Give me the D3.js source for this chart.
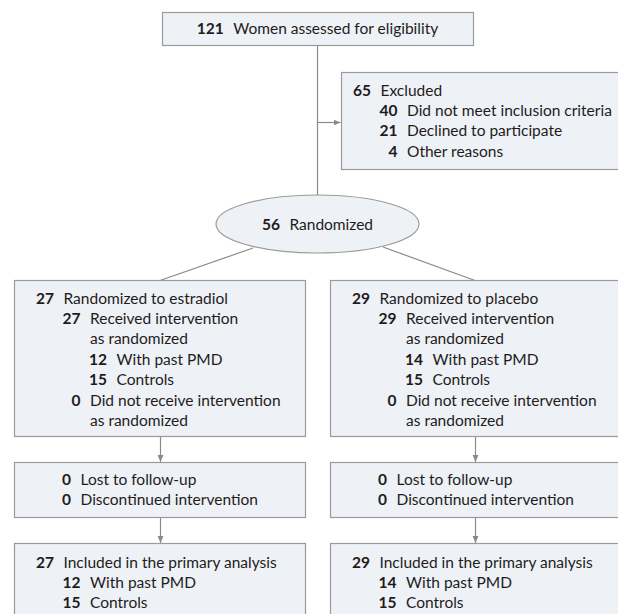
<!DOCTYPE html>
<html>
<head>
<meta charset="utf-8">
<script src="https://cdn.jsdelivr.net/npm/d3@7"></script>
<style>
  html, body { margin: 0; padding: 0; background: #fff; }
  svg { display: block; }
  text { font-family: Lato, "Open Sans", sans-serif; fill: #1f1c1d; }
</style>
</head>
<body>
<svg id="chart" width="618" height="614"></svg>
<script>
// ---------- data ----------
const assessed = [{ n: 121, text: "Women assessed for eligibility", level: 0 }];
const excluded = [
  { n: 65, text: "Excluded", level: 0 },
  { n: 40, text: "Did not meet inclusion criteria", level: 1 },
  { n: 21, text: "Declined to participate", level: 1 },
  { n: 4, text: "Other reasons", level: 1 }
];
const randomized = [{ n: 56, text: "Randomized", level: 0 }];
const armNames = ["estradiol", "placebo"];
const armTotals = [27, 29];
const armPastPMD = [12, 14];
const armControls = [15, 15];
const armNotReceived = [0, 0];
const armLost = [0, 0];
const armDiscontinued = [0, 0];
const armAnalyzed = [27, 29];

function allocationLines(i) {
  return [
    { n: armTotals[i], text: "Randomized to " + armNames[i], level: 0 },
    { n: armTotals[i], text: "Received intervention", level: 1 },
    { n: null, text: "as randomized", level: 1 },
    { n: armPastPMD[i], text: "With past PMD", level: 2 },
    { n: armControls[i], text: "Controls", level: 2 },
    { n: armNotReceived[i], text: "Did not receive intervention", level: 1 },
    { n: null, text: "as randomized", level: 1 }
  ];
}
function followLines(i) {
  return [
    { n: armLost[i], text: "Lost to follow-up", level: 0 },
    { n: armDiscontinued[i], text: "Discontinued intervention", level: 0 }
  ];
}
function analysisLines(i) {
  return [
    { n: armAnalyzed[i], text: "Included in the primary analysis", level: 0 },
    { n: armPastPMD[i], text: "With past PMD", level: 1 },
    { n: armControls[i], text: "Controls", level: 1 }
  ];
}

// ---------- drawing ----------
const svg = d3.select("#chart");
const FILL = "#eef1f5", STROKE = "#9b9b9b", LINE = "#8a8a8a";
const FS = 15.5, LH = 20.4, STEP = 26.5, GAP = 9.5;

const defs = svg.append("defs");
defs.append("marker").attr("id", "arr")
  .attr("viewBox", "0 0 10 10").attr("refX", 10).attr("refY", 5)
  .attr("markerWidth", 7).attr("markerHeight", 7)
  .attr("markerUnits", "userSpaceOnUse").attr("orient", "auto")
  .append("path").attr("d", "M0,0.8 L10,5 L0,9.2 Z").attr("fill", LINE);

const lineG = svg.append("g");
const boxG = svg.append("g");

function connector(x1, y1, x2, y2, arrow) {
  const l = lineG.append("line")
    .attr("x1", x1).attr("y1", y1).attr("x2", x2).attr("y2", y2)
    .attr("stroke", LINE).attr("stroke-width", 1.2);
  if (arrow) l.attr("marker-end", "url(#arr)");
}

function box(x, y, w, h) {
  boxG.append("rect").attr("x", x + 0.5).attr("y", y + 0.5)
    .attr("width", w).attr("height", h)
    .attr("fill", FILL).attr("stroke", STROKE).attr("stroke-width", 1.2);
}

function lines(data, numRight, firstY) {
  const yScale = d3.scaleLinear().domain([0, 1]).range([firstY, firstY + LH]);
  const g = boxG.append("g");
  data.forEach((d, k) => {
    const xr = numRight + d.level * STEP;
    const yy = yScale(k);
    if (d.n !== null) {
      g.append("text").attr("x", xr).attr("y", yy).attr("dy", "0.36em")
        .attr("text-anchor", "end").attr("font-weight", 700)
        .attr("font-size", FS).text(d.n);
    }
    g.append("text").attr("x", xr + GAP).attr("y", yy).attr("dy", "0.36em")
      .attr("font-size", FS).text(d.text);
  });
}

function centredLabel(d, cx, cy) {
  const t = boxG.append("text").attr("y", cy).attr("dy", "0.36em").attr("font-size", FS);
  t.append("tspan").attr("font-weight", 700).text(d.n);
  t.append("tspan").attr("dx", GAP).text(d.text);
  const bb = t.node().getBBox();
  t.attr("x", cx - bb.width / 2);
}

const CX = 317.5;
// top box
box(162, 12, 311, 33);
// connectors
connector(CX, 45, CX, 195, false);
connector(CX, 122.5, 340.5, 122.5, true);
// excluded
box(341, 72, 290, 97);
lines(excluded, 371, 90);
centredLabel(assessed[0], CX, 28.5);

// ellipse
boxG.append("ellipse").attr("cx", CX).attr("cy", 224).attr("rx", 101.5).attr("ry", 29)
  .attr("fill", FILL).attr("stroke", STROKE).attr("stroke-width", 1.2);
centredLabel(randomized[0], CX, 224);

// arms
const armX = [14, 330];
const armArrowX = [160.5, 475.5];
connector(253, 248, 160, 280.5, false);
connector(383, 247, 475, 280.5, false);

armX.forEach((x0, i) => {
  box(x0, 280, 291, 156);
  lines(allocationLines(i), x0 + 40, 298);
  connector(armArrowX[i], 436.5, armArrowX[i], 462, true);
  box(x0, 462, 291, 55);
  lines(followLines(i), x0 + 57, 479);
  connector(armArrowX[i], 517.5, armArrowX[i], 543, true);
  box(x0, 543, 291, 100);
  lines(analysisLines(i), x0 + 40, 562);
});
</script>
</body>
</html>
